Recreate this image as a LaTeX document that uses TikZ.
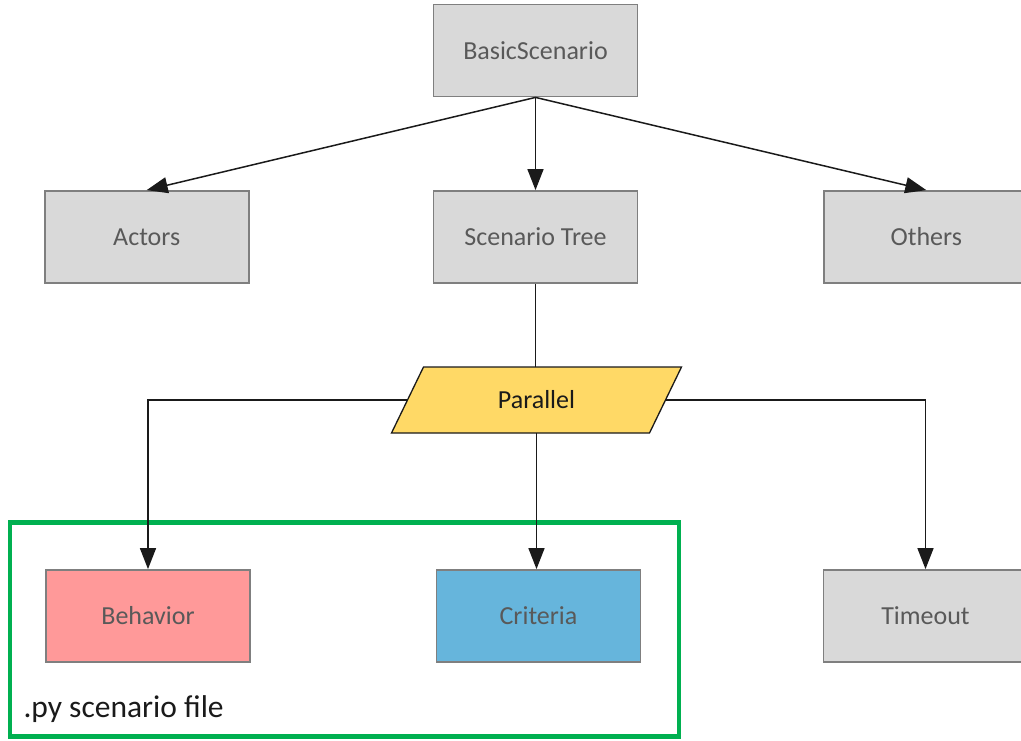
\documentclass[tikz,border=0pt]{standalone}
\usepackage{fontspec}
\setmainfont{Carlito}
\usepackage{tikz}
\usetikzlibrary{positioning,arrows.meta,calc}
\definecolor{ink}{HTML}{1A1A1A}
\definecolor{edge}{HTML}{7F7F7F}
\definecolor{txt}{HTML}{595959}
\definecolor{greybg}{HTML}{D9D9D9}
\definecolor{redbg}{HTML}{FF9999}
\definecolor{bluebg}{HTML}{66B5DC}
\definecolor{yellowbg}{HTML}{FFD966}
\definecolor{grn}{HTML}{00B050}
\tikzset{
  nd/.style={draw=edge, fill=greybg, line width=1.8pt, inner sep=0pt,
             text=txt, font=\fontsize{26}{30}\selectfont,
             minimum width=204pt, minimum height=92pt},
  pl/.style={inner sep=0pt, text=ink, font=\fontsize{26}{30}\selectfont,
             minimum width=258pt, minimum height=66pt},
  plshape/.style={draw=ink, fill=yellowbg, line width=1.3pt, line join=miter},
  grp/.style={draw=grn, line width=4.5pt},
  ar/.style={-{Triangle[length=21pt, width=16pt]}, line width=1.5pt, color=ink},
  ln/.style={line width=1.5pt, color=ink},
}
\begin{document}
\begin{tikzpicture}[x=1pt, y=-1pt]
\useasboundingbox (0,0) rectangle (1021,740);
% top rows
\node[nd] (bs) at (535.5,50.5) {BasicScenario};
\node[nd] (tree) at (535.5,237) {Scenario Tree};
\node[nd] (actors) [left=183pt of tree] {Actors};
\node[nd] (others) [right=185pt of tree] {Others};
\draw[ar] (bs.south) -- (actors.north);
\draw[ar] (bs.south) -- (tree.north);
\draw[ar] (bs.south) -- (others.north);

% parallel
\coordinate (pc) at (536.5,400);
\filldraw[plshape] ($(pc)+(-145,33)$) -- ($(pc)+(-113,-33)$) -- ($(pc)+(145,-33)$)
  -- ($(pc)+(113,33)$) -- cycle;
\node[pl] (par) at (pc) {Parallel};
\draw[ln] (tree.south) -- (par.north -| tree.south);

% py file group
\node[grp, minimum width=669pt, minimum height=214pt] (pyfile) at (344.5,629.5) {};
\node[anchor=base west, font=\fontsize{31.5}{36}\selectfont, text=ink] (pylbl) at (20,717) {.py scenario file};

% leaves
\node[nd, fill=redbg] (beh) at (148,616) {Behavior};
\node[nd, fill=bluebg] (crit) at (538.5,616) {Criteria};
\node[nd] (tout) at (925.5,616) {Timeout};
\draw[ar] (par.west) -| (beh.north);
\draw[ar] (par.south) -- (par.south |- crit.north);
\draw[ar] (par.east) -| (tout.north);
\end{tikzpicture}
\end{document}
